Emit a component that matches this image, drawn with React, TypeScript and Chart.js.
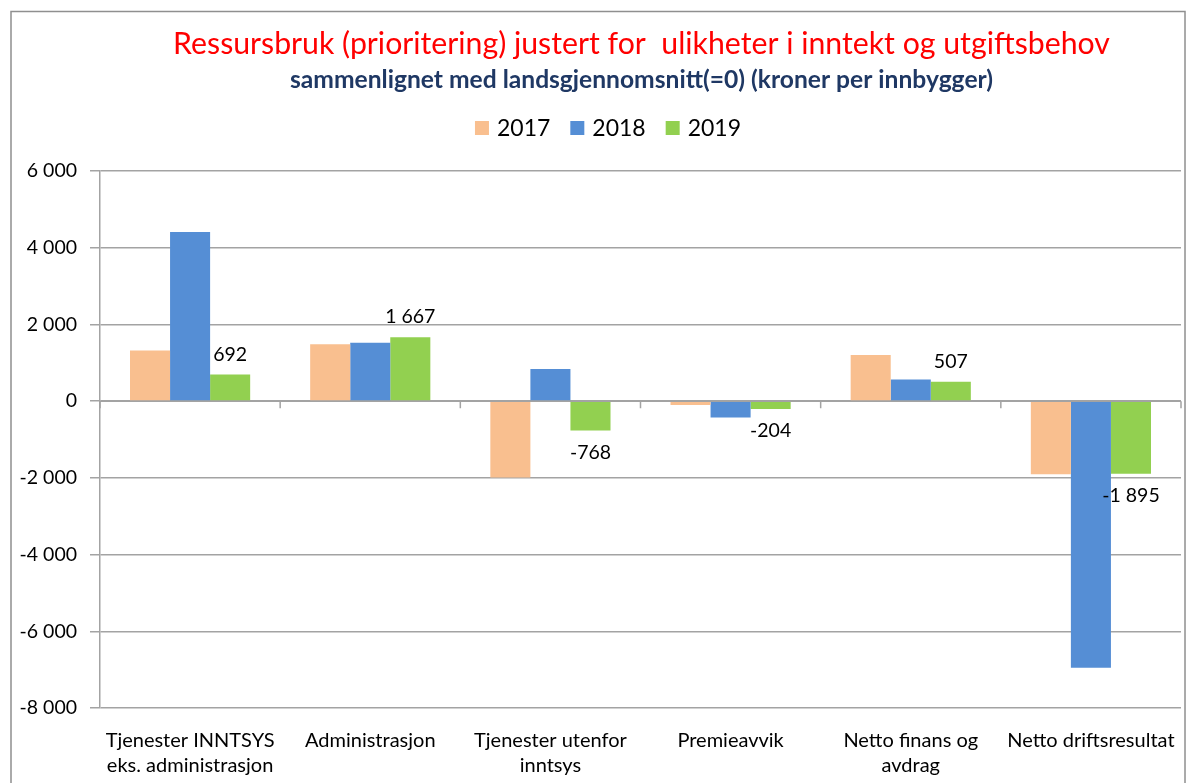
import React, { useEffect, useRef } from "react";
import { Chart, registerables } from "chart.js";

Chart.register(...registerables);

const categories: string[][] = [
  ["Tjenester INNTSYS", "eks. administrasjon"],
  ["Administrasjon"],
  ["Tjenester utenfor", "inntsys"],
  ["Premieavvik"],
  ["Netto finans og", "avdrag"],
  ["Netto driftsresultat"],
];
const seriesLabels = ["2017", "2018", "2019"];
const values2017 = [1320, 1480, -1990, -100, 1200, -1905];
const values2018 = [4410, 1520, 840, -425, 565, -6950];
const values2019 = [692, 1667, -768, -204, 507, -1895];
const seriesColors = ["#F9BF8F", "#558ED5", "#92D050"];
const yMin = -8000;
const yMax = 6000;
const yStep = 2000;
const labelledSeries = 2;

const titleText = "Ressursbruk (prioritering) justert for  ulikheter i inntekt og utgiftsbehov";
const subtitleText = "sammenlignet med landsgjennomsnitt(=0) (kroner per innbygger)";

const FONT = "Lato, 'Open Sans', 'Liberation Sans', sans-serif";
const GRID = "#a3a3a3";

const fmt = (n: number) =>
  (n < 0 ? "-" : "") + Math.abs(Math.round(n)).toString().replace(/\B(?=(\d{3})+(?!\d))/g, " ");

function fitText(ctx: CanvasRenderingContext2D, text: string, weight: string, target: number, base: number) {
  ctx.font = `${weight} ${base}px ${FONT}`;
  const w = ctx.measureText(text).width;
  const size = (base * target) / w;
  ctx.font = `${weight} ${size}px ${FONT}`;
}

const decorPlugin = {
  id: "decor",
  beforeDraw(chart: any) {
    const ctx: CanvasRenderingContext2D = chart.ctx;
    ctx.save();
    ctx.fillStyle = "#ffffff";
    ctx.fillRect(0, 0, chart.width, chart.height);
    // frame
    ctx.strokeStyle = "#8f8f8f";
    ctx.lineWidth = 1.5;
    ctx.strokeRect(11, 11.5, 1174, 900);
    // title
    ctx.textAlign = "center";
    ctx.textBaseline = "alphabetic";
    ctx.fillStyle = "#FF0000";
    fitText(ctx, titleText, "normal", 937, 30);
    ctx.fillText(titleText, 641.5, 54);
    ctx.fillStyle = "#1F3864";
    fitText(ctx, subtitleText, "bold", 703, 20);
    ctx.fillText(subtitleText, 641.5, 88);
    // legend
    ctx.font = `normal 23px ${FONT}`;
    const sq = 14;
    const gapIn = 8;
    const gapOut = 20;
    const widths = seriesLabels.map((l) => ctx.measureText(l).width);
    const total = widths.reduce((a, w) => a + sq + gapIn + w, 0) + gapOut * (seriesLabels.length - 1);
    let x = 608 - total / 2;
    const cy = 128;
    ctx.textAlign = "left";
    ctx.textBaseline = "middle";
    chart.data.datasets.forEach((ds: any, i: number) => {
      ctx.fillStyle = ds.backgroundColor;
      ctx.fillRect(x, cy - 7, sq, sq);
      x += sq + gapIn;
      ctx.fillStyle = "#000000";
      ctx.fillText(ds.label, x, cy + 1);
      x += widths[i] + gapOut;
    });
    ctx.restore();
  },
  afterDatasetsDraw(chart: any) {
    const ctx: CanvasRenderingContext2D = chart.ctx;
    const area = chart.chartArea;
    const y0 = chart.scales.y.getPixelForValue(0);
    ctx.save();
    // zero axis line and tick marks at category boundaries
    ctx.strokeStyle = GRID;
    ctx.lineWidth = 1.5;
    ctx.beginPath();
    ctx.moveTo(area.left, y0);
    ctx.lineTo(area.right, y0);
    const n = chart.data.labels.length;
    for (let i = 0; i <= n; i++) {
      const xx = area.left + (i * (area.right - area.left)) / n;
      ctx.moveTo(xx, y0);
      ctx.lineTo(xx, y0 + 7);
    }
    ctx.stroke();
    // data labels
    const meta = chart.getDatasetMeta(labelledSeries);
    const data = chart.data.datasets[labelledSeries].data;
    ctx.font = `normal 19.5px ${FONT}`;
    ctx.fillStyle = "#000000";
    ctx.textAlign = "center";
    ctx.textBaseline = "middle";
    meta.data.forEach((bar: any, i: number) => {
      const v = data[i];
      const y = v >= 0 ? bar.y - 20 : bar.y + 22;
      ctx.fillText(fmt(v), bar.x, y);
    });
    ctx.restore();
  },
};

export default function App() {
  const ref = useRef<HTMLCanvasElement | null>(null);
  useEffect(() => {
    if (!ref.current) return;
    const chart = new Chart(ref.current, {
      type: "bar",
      data: {
        labels: categories,
        datasets: [values2017, values2018, values2019].map((vals, i) => ({
          label: seriesLabels[i],
          data: vals,
          backgroundColor: seriesColors[i],
          borderWidth: 0,
          categoryPercentage: 0.667,
          barPercentage: 1,
        })),
      },
      options: {
        responsive: false,
        animation: false,
        layout: { padding: { left: 11, right: 6, top: 171, bottom: 0 } },
        plugins: {
          legend: { display: false },
          title: { display: false },
          tooltip: { enabled: false },
        },
        scales: {
          x: {
            grid: { display: false, drawTicks: false },
            border: { display: false },
            ticks: {
              padding: 20,
              color: "#000000",
              font: { family: FONT, size: 20, lineHeight: 1.25 },
              maxRotation: 0,
              autoSkip: false,
            },
            afterFit: (s: any) => {
              s.height = 75;
              s.paddingLeft = 0;
              s.paddingRight = 0;
            },
          },
          y: {
            min: yMin,
            max: yMax,
            grid: { color: GRID, lineWidth: 1.5, tickLength: 10, drawTicks: true },
            border: { display: true, color: GRID, width: 1.5 },
            ticks: {
              stepSize: yStep,
              padding: 13,
              color: "#000000",
              font: { family: FONT, size: 19.5 },
              callback: (v: any) => fmt(Number(v)),
            },
            afterFit: (s: any) => {
              s.width = 89;
              s.paddingTop = 0;
              s.paddingBottom = 0;
            },
          },
        },
      },
      plugins: [decorPlugin],
    });
    return () => chart.destroy();
  }, []);
  return (
    <div style={{ position: "absolute", left: 0, top: 0, width: 1187, height: 783, background: "#fff", overflow: "hidden" }}>
      <canvas ref={ref} width={1187} height={783} style={{ display: "block" }} />
    </div>
  );
}
